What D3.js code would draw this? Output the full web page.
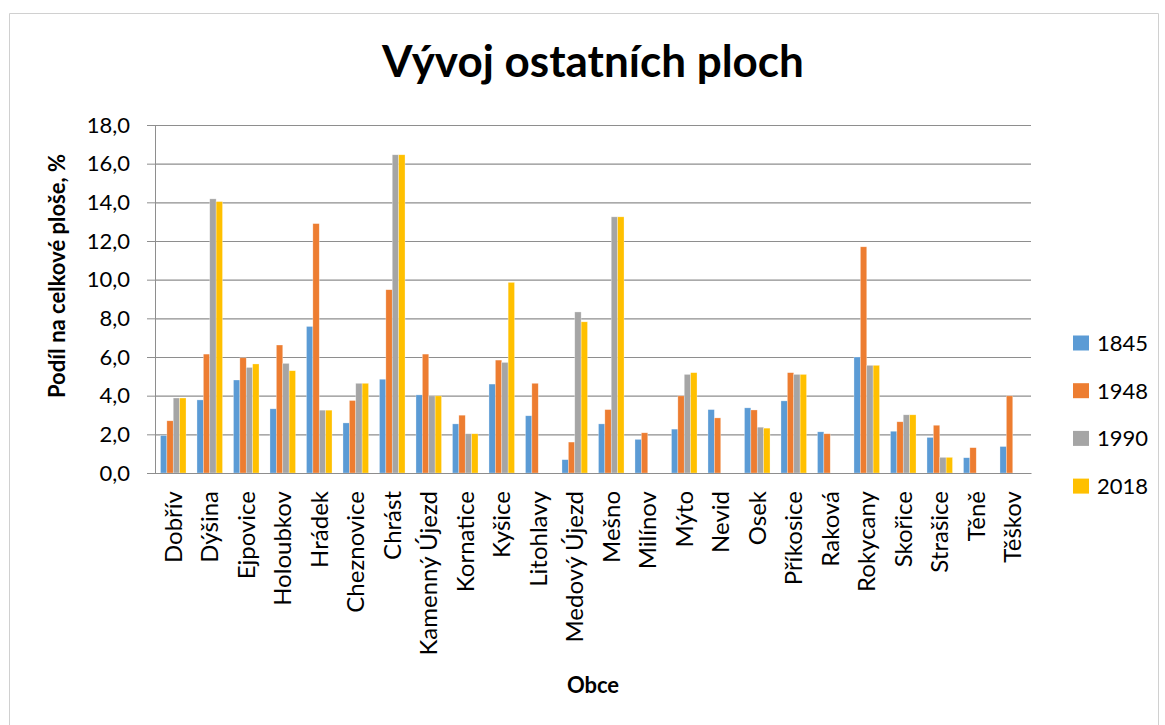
<!DOCTYPE html>
<html>
<head>
<meta charset="utf-8">
<script src="https://cdn.jsdelivr.net/npm/d3@7"></script>
<style>
  body { margin: 0; background: #fff; }
  svg { display: block; font-family: Lato, "Open Sans", sans-serif; }
</style>
</head>
<body>
<div id="chart"></div>
<script>
// data
const towns = ["Dobřív", "Dýšina", "Ejpovice", "Holoubkov", "Hrádek", "Cheznovice", "Chrást",
  "Kamenný Újezd", "Kornatice", "Kyšice", "Litohlavy", "Medový Újezd", "Mešno", "Milínov",
  "Mýto", "Nevid", "Osek", "Příkosice", "Raková", "Rokycany", "Skořice", "Strašice", "Těně", "Těškov"];
const years = ["1845", "1948", "1990", "2018"];
const v1845 = [1.94, 3.78, 4.81, 3.32, 7.58, 2.59, 4.85, 4.04, 2.54, 4.60, 2.96, 0.69, 2.54, 1.74, 2.27, 3.28, 3.37, 3.73, 2.13, 6.00, 2.16, 1.84, 0.79, 1.37];
const v1948 = [2.70, 6.15, 5.96, 6.62, 12.90, 3.75, 9.48, 6.15, 2.99, 5.84, 4.64, 1.60, 3.28, 2.08, 3.99, 2.85, 3.26, 5.19, 2.03, 11.70, 2.65, 2.47, 1.31, 3.99];
const v1990 = [3.88, 14.18, 5.46, 5.67, 3.25, 4.64, 16.46, 3.99, 2.03, 5.72, null, 8.33, 13.25, null, 5.10, null, 2.37, 5.10, null, 5.57, 3.01, 0.81, null, null];
const v2018 = [3.88, 14.04, 5.64, 5.29, 3.25, 4.64, 16.46, 3.99, 2.03, 9.86, null, 7.82, 13.25, null, 5.19, null, 2.32, 5.10, null, 5.57, 3.01, 0.81, null, null];
const yTicks = [0, 2, 4, 6, 8, 10, 12, 14, 16, 18];

const colors = ["#5b9bd5", "#ed7d31", "#a5a5a5", "#ffc000"];
const series = [v1845, v1948, v1990, v2018];

const width = 1165;
const height = 725;
const margin = {top: 125, right: 134, bottom: 252, left: 155};

const svg = d3.select("#chart").append("svg")
    .attr("width", width)
    .attr("height", height);

// frame
svg.append("path")
    .attr("d", `M9.5,${height}V13.5H1158.5V${height}`)
    .attr("fill", "none")
    .attr("stroke", "#d0d0d0");

const x0 = d3.scaleBand()
    .domain(towns)
    .range([margin.left, width - margin.right])
    .paddingInner(0.3)
    .paddingOuter(0.15);

const x1 = d3.scaleBand()
    .domain(years)
    .range([0, x0.bandwidth()]);

const y = d3.scaleLinear()
    .domain([0, 18])
    .range([height - margin.bottom, margin.top]);

const fmt = d => d3.format(".1f")(d).replace(".", ",");

// gridlines
svg.append("g")
    .attr("transform", `translate(${margin.left},0)`)
    .call(d3.axisLeft(y).tickValues(yTicks).tickSize(-(width - margin.left - margin.right)).tickFormat(""))
    .call(g => g.select(".domain").remove())
    .call(g => g.selectAll("line").attr("stroke", "#8e8e8e").attr("stroke-width", 1.2));

// y axis with labels
svg.append("g")
    .attr("transform", `translate(${margin.left},0)`)
    .call(d3.axisLeft(y).tickValues(yTicks).tickSize(8).tickPadding(17).tickFormat(fmt))
    .call(g => g.select(".domain").attr("stroke", "#8e8e8e"))
    .call(g => g.selectAll("line").attr("stroke", "#8e8e8e"))
    .call(g => g.selectAll("text").attr("font-size", 22).attr("fill", "#000").attr("font-family", "Lato"));

// bars
const groups = svg.append("g")
    .selectAll("g")
    .data(towns)
    .join("g")
    .attr("transform", d => `translate(${x0(d)},0)`);

groups.selectAll("rect")
    .data((d, i) => years.map((yr, k) => ({year: yr, value: series[k][i], k: k})).filter(e => e.value != null))
    .join("rect")
    .attr("x", d => x1(d.year))
    .attr("y", d => y(d.value))
    .attr("width", x1.bandwidth())
    .attr("height", d => y(0) - y(d.value))
    .attr("fill", d => colors[d.k])
    .attr("stroke", "#fff")
    .attr("stroke-opacity", 0.5)
    .attr("stroke-width", 0.6);

// x axis
svg.append("g")
    .attr("transform", `translate(0,${height - margin.bottom})`)
    .call(d3.axisBottom(x0).tickSize(0).tickSizeOuter(0))
    .call(g => g.select(".domain").attr("stroke", "#8e8e8e").attr("stroke-width", 1.2))
    .call(g => g.selectAll("text")
        .attr("font-size", 24)
        .attr("fill", "#000")
        .attr("font-family", "Lato")
        .attr("transform", "rotate(-90)")
        .attr("text-anchor", "end")
        .attr("x", -18)
        .attr("y", 0)
        .attr("dy", "0.36em"));

// titles
svg.append("text")
    .attr("x", (margin.left + width - margin.right) / 2)
    .attr("y", 77)
    .attr("text-anchor", "middle")
    .attr("font-size", 44)
    .attr("font-weight", "bold")
    .text("Vývoj ostatních ploch");

svg.append("text")
    .attr("transform", "translate(65,276) rotate(-90)")
    .attr("text-anchor", "middle")
    .attr("font-size", 22)
    .attr("font-weight", "bold")
    .text("Podíl na celkové ploše, %");

svg.append("text")
    .attr("x", (margin.left + width - margin.right) / 2)
    .attr("y", 693)
    .attr("text-anchor", "middle")
    .attr("font-size", 22)
    .attr("font-weight", "bold")
    .text("Obce");

// legend
const legend = svg.append("g")
    .selectAll("g")
    .data(years)
    .join("g")
    .attr("transform", (d, i) => `translate(1073,${343 + i * 47.7})`);

legend.append("rect")
    .attr("y", -7.5)
    .attr("width", 16)
    .attr("height", 15)
    .attr("fill", (d, i) => colors[i]);

legend.append("text")
    .attr("x", 24)
    .attr("dy", "0.36em")
    .attr("font-size", 22)
    .text(d => d);
</script>
</body>
</html>
